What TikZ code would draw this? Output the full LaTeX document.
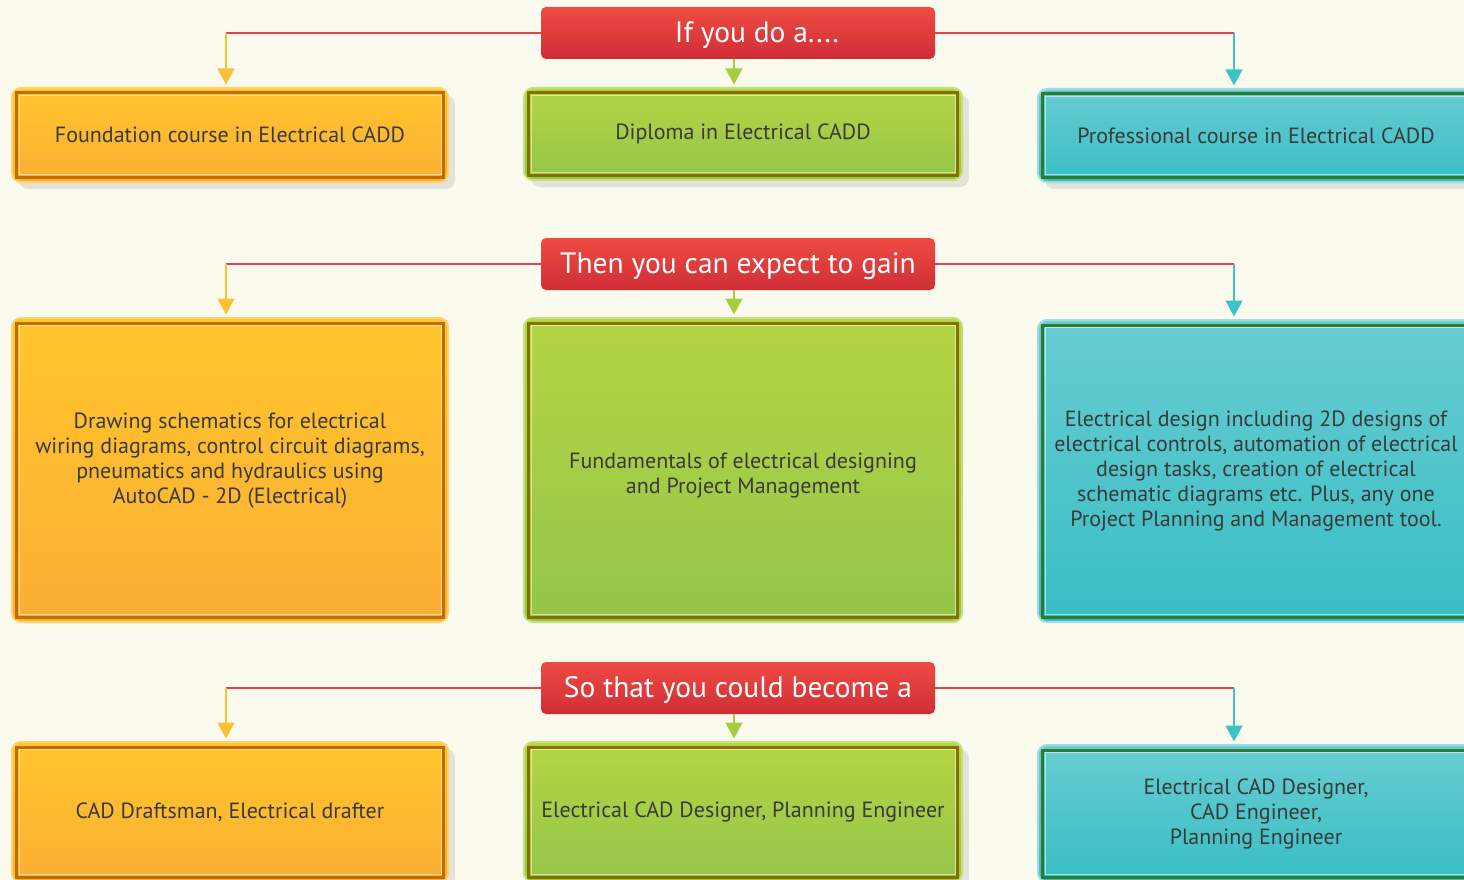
\documentclass[tikz,border=0pt]{standalone}
\usepackage{fontspec}
\setmainfont{PT Sans}
\usetikzlibrary{shadows,arrows.meta}
\definecolor{bgc}{HTML}{FAFAEE}
\definecolor{redtop}{HTML}{EF4B43}
\definecolor{redbot}{HTML}{CF2E36}
\definecolor{redln}{HTML}{E8404A}
\definecolor{ortop}{HTML}{FFC62C}
\definecolor{orbot}{HTML}{FBAE34}
\definecolor{orline}{HTML}{FDC030}
\definecolor{oredge}{HTML}{FDD36A}
\definecolor{ordark}{HTML}{C46C00}
\definecolor{grtop}{HTML}{B5D543}
\definecolor{grbot}{HTML}{94C54A}
\definecolor{grline}{HTML}{A6CD3E}
\definecolor{gredge}{HTML}{C5E07A}
\definecolor{grdark}{HTML}{857000}
\definecolor{tltop}{HTML}{68CCD3}
\definecolor{tlbot}{HTML}{37BEC3}
\definecolor{tlline}{HTML}{3EC2C6}
\definecolor{tledge}{HTML}{9EDDE3}
\definecolor{tldark}{HTML}{2E7A2E}
\definecolor{txt}{HTML}{3A3A3A}
\tikzset{
  hdr/.style={rounded corners=5pt, top color=redtop, bottom color=redbot,
    minimum width=394pt, minimum height=52pt, inner sep=0pt},
  hdrtext/.style={text=white, inner sep=0pt, font=\fontsize{29.5}{32}\selectfont},
  boxbase/.style={rounded corners=9pt, line width=2pt, inner sep=0pt,
    text=txt, align=center, font=\fontsize{22}{25}\selectfont},
  bodytext/.style={text=txt, align=center, inner sep=0pt, font=\fontsize{22}{25}\selectfont},
  shad/.style={drop shadow={opacity=0.18, shadow xshift=7pt, shadow yshift=-7pt}},
  obox/.style={boxbase, draw=oredge, top color=ortop, bottom color=orbot, minimum width=436pt},
  gbox/.style={boxbase, draw=gredge, top color=grtop, bottom color=grbot, minimum width=438pt},
  tbox/.style={boxbase, draw=tledge, top color=tltop, bottom color=tlbot, minimum width=436pt},
  frame/.style={line width=3pt},
  hilite/.style={line width=0.8pt, draw=white, draw opacity=0.55},
  conn/.style={line width=1.4pt},
  tip/.style={-{Triangle[length=16pt,width=17pt]}},
}
\newcommand{\inframe}[2]{%
  \draw[frame, draw=#2] ([shift={(5.5pt,-6pt)}]#1.north west) rectangle ([shift={(-5.5pt,6pt)}]#1.south east);
  \draw[hilite] ([shift={(8pt,-8.5pt)}]#1.north west) rectangle ([shift={(-8pt,8.5pt)}]#1.south east);
}
\begin{document}
\begin{tikzpicture}[x=1pt,y=-1pt]
\useasboundingbox (0,0) rectangle (1464,880);
\fill[bgc] (0,0) rectangle (1464,880);
\clip (0,0) rectangle (1464,880);

% headers
\node[hdr] (h1) at (738,33) {};
\node[hdrtext] (h1t) at (757,35.5) {If you do a....};
\node[hdr] (h2) at (738,264) {};
\node[hdrtext] (h2t) at (738,266.5) {Then you can expect to gain};
\node[hdr] (h3) at (738,688) {};
\node[hdrtext] (h3t) at (738,690.5) {So that you could become a};

% row 1
\node[obox, shad, minimum height=94pt] (o1) at (230,135) {Foundation course in Electrical CADD};
\inframe{o1}{ordark}
\node[gbox, shad, minimum height=92pt] (g1) at (743,134) {Diploma in Electrical CADD};
\inframe{g1}{grdark}
\node[tbox, shad, minimum height=93pt] (t1) at (1256,135.5) {Professional course in Electrical CADD};
\inframe{t1}{tldark}

% row 2
\node[obox, minimum height=304pt] (o2) at (230,470) {};
\inframe{o2}{ordark}
\node[bodytext] (o2t) at (230,460.5) {Drawing schematics for electrical\\wiring diagrams, control circuit diagrams,\\pneumatics and hydraulics using\\AutoCAD - 2D (Electrical)};
\node[gbox, minimum height=304pt] (g2) at (743,470) {};
\inframe{g2}{grdark}
\node[bodytext] (g2t) at (743,475.5) {Fundamentals of electrical designing\\and Project Management};
\node[tbox, minimum height=302pt] (t2) at (1256,471) {};
\inframe{t2}{tldark}
\node[bodytext] (t2t) at (1256,471) {Electrical design including 2D designs of\\electrical controls, automation of electrical\\design tasks, creation of electrical\\schematic diagrams etc. Plus, any one\\Project Planning and Management tool.};

% row 3
\node[obox, shad, minimum height=140pt] (o3) at (230,812) {CAD Draftsman, Electrical drafter};
\inframe{o3}{ordark}
\node[gbox, shad, minimum height=140pt] (g3) at (743,812) {Electrical CAD Designer, Planning Engineer};
\inframe{g3}{grdark}
\node[tbox, shad, minimum height=137pt] (t3) at (1256,813.5) {Electrical CAD Designer,\\CAD Engineer,\\Planning Engineer};
\inframe{t3}{tldark}

% connectors
\foreach \h/\o/\g/\t in {h1/o1/g1/t1, h2/o2/g2/t2, h3/o3/g3/t3}{
  \coordinate (L\h) at (\h.west -| 226,0);
  \coordinate (R\h) at (\h.east -| 1234,0);
  \draw[conn, redln] (\h.west) -- (L\h);
  \draw[conn, redln] (\h.east) -- (R\h);
  \draw[conn, orline, tip] (L\h) -- ([yshift=2.5pt]L\h |- \o.north);
  \draw[conn, tlline, tip] (R\h) -- ([yshift=2.5pt]R\h |- \t.north);
  \draw[conn, grline, tip] (\h.south -| 734,0) -- ([yshift=2.5pt]\g.north -| 734,0);
}
\end{tikzpicture}
\end{document}
